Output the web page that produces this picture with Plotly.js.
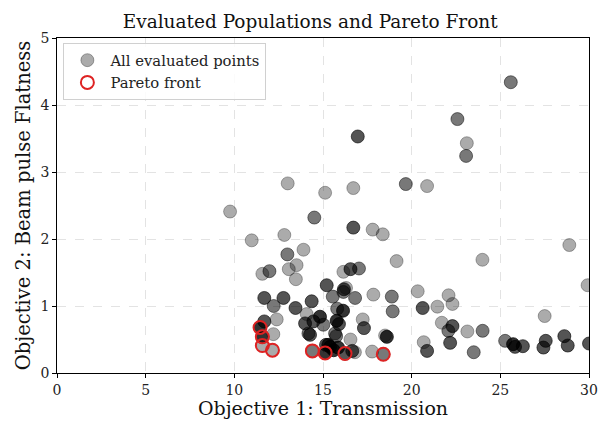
<!DOCTYPE html>
<html>
<head>
<meta charset="utf-8">
<script src="https://cdn.plot.ly/plotly-3.0.1.min.js"></script>
<style>html,body{margin:0;padding:0;background:#fff;}#chart{width:600px;height:421px;}</style>
</head>
<body>
<div id="chart"></div>
<script>
// All evaluated points: objective 1, objective 2, and a shade group (0 light ... 3 darkest)
const allX = [9.76,10.98,12.82,13.01,14.51,12.99,13.9,15.12,16.71,16.96,19.67,20.87,22.58,23.11,23.07,25.59,16.71,17.8,18.37,19.15,23.99,28.89,29.92,27.5,
  11.58,11.98,13.07,13.51,13.47,11.69,12.77,12.22,13.45,14.36,15.21,15.55,16.15,16.55,17.03,16.3,16.18,16.81,17.84,18.88,18.93,20.34,20.62,21.45,22.08,22.3,21.7,22.3,22.07,23.14,24.0,20.68,20.87,22.17,23.5,25.27,25.72,25.83,26.27,27.43,27.56,28.61,28.8,30.0,
  11.69,12.39,12.2,14.08,14.83,13.99,14.27,14.46,15.02,15.8,16.13,15.77,15.9,15.74,16.55,17.24,17.31,18.5,18.6,17.77,16.65,16.8,15.4,15.6,15.85,15.17,14.18,15.68,15.3,16.15,
  11.45,11.58,11.58,12.15,14.4,15.12,16.24,18.4];
const allY = [2.41,1.98,2.06,2.83,2.32,1.77,1.84,2.69,2.76,3.53,2.82,2.79,3.79,3.43,3.24,4.34,2.17,2.14,2.07,1.67,1.69,1.91,1.31,0.85,
  1.48,1.52,1.55,1.61,1.40,1.12,1.12,1.00,0.97,1.07,1.31,1.14,1.51,1.55,1.56,1.27,1.25,1.12,1.17,1.14,0.92,1.22,0.97,0.99,1.16,1.03,0.75,0.70,0.63,0.62,0.63,0.46,0.33,0.45,0.31,0.48,0.43,0.39,0.40,0.38,0.48,0.55,0.41,0.44,
  0.77,0.80,0.58,0.88,0.84,0.74,0.57,0.77,0.72,0.96,0.93,0.78,0.73,0.55,0.50,0.80,0.67,0.56,0.54,0.32,0.33,0.31,0.39,0.34,0.38,0.42,0.59,0.59,0.42,1.21,
  0.68,0.54,0.41,0.34,0.33,0.30,0.29,0.28];
const allShade = [0,0,0,0,1,1,0,0,0,2,1,0,1,0,1,1,2,0,0,0,0,0,0,0,
  0,1,0,0,0,2,2,1,2,2,2,1,0,2,1,0,2,1,0,1,1,0,2,0,0,0,0,2,1,0,1,0,2,2,1,1,3,2,2,2,2,2,2,2,
  2,0,0,0,3,2,2,2,1,1,3,3,2,1,0,0,2,0,3,0,2,0,3,3,3,2,1,1,3,1,
  3,3,0,0,1,3,2,1];

// Pareto front
const paretoX = [11.45,11.58,11.58,12.15,14.4,15.12,16.24,18.4];
const paretoY = [0.68,0.54,0.41,0.34,0.33,0.30,0.29,0.28];

const xTicks = [0,5,10,15,20,25,30];
const yTicks = [0,1,2,3,4,5];

const alphas = [0.33,0.53,0.67,0.8];
const fillCols = allShade.map(s => `rgba(0,0,0,${alphas[s]})`);
const lineCols = allShade.map(s => `rgba(0,0,0,${Math.min(1, alphas[s]*0.9)})`);

const font = "DejaVu Serif, serif";

const traces = [
  {
    x: allX, y: allY, type: 'scatter', mode: 'markers', name: 'All evaluated points',
    marker: {size: 13, color: fillCols, line: {color: lineCols, width: 1}},
    hoverinfo: 'x+y'
  },
  {
    x: paretoX, y: paretoY, type: 'scatter', mode: 'markers', name: 'Pareto front',
    marker: {size: 13, color: 'rgba(0,0,0,0)', line: {color: 'rgb(222,35,35)', width: 2}}
  }
];

const axisBase = {
  showline: true, mirror: true, linecolor: '#000', linewidth: 1.2,
  ticks: 'outside', ticklen: 3.5, tickwidth: 1, tickcolor: '#000',
  showgrid: true, gridcolor: '#e3e3e3', griddash: 'dash', gridwidth: 1,
  zeroline: false, tickfont: {family: font, size: 14, color: '#222'}
};

const layout = {
  width: 600, height: 421,
  margin: {l: 57, r: 11, t: 38, b: 48},
  paper_bgcolor: '#fff', plot_bgcolor: '#fff',
  title: {text: 'Evaluated Populations and Pareto Front', font: {family: font, size: 18.5, color: '#111'}, x: 0.517, xanchor: 'center', xref: 'container', y: 0.948, yref: 'container', yanchor: 'middle'},
  xaxis: Object.assign({}, axisBase, {range: [0, 30], tickvals: xTicks, ticktext: xTicks.map(String),
    title: {text: 'Objective 1: Transmission', font: {family: font, size: 19, color: '#111'}, standoff: 5}}),
  yaxis: Object.assign({}, axisBase, {range: [0, 5], tickvals: yTicks, ticktext: yTicks.map(String),
    title: {text: 'Objective 2: Beam pulse Flatness', font: {family: font, size: 19.5, color: '#111'}, standoff: 4}}),
  legend: {x: 0.012, y: 0.985, xanchor: 'left', yanchor: 'top', bgcolor: 'rgba(255,255,255,0.85)', bordercolor: '#d0d0d0', borderwidth: 1,
    font: {family: font, size: 14.8, color: '#222'}, itemwidth: 36, tracegroupgap: 2},
  showlegend: true
};

Plotly.newPlot('chart', traces, layout, {displayModeBar: false, staticPlot: true});
</script>
</body>
</html>
